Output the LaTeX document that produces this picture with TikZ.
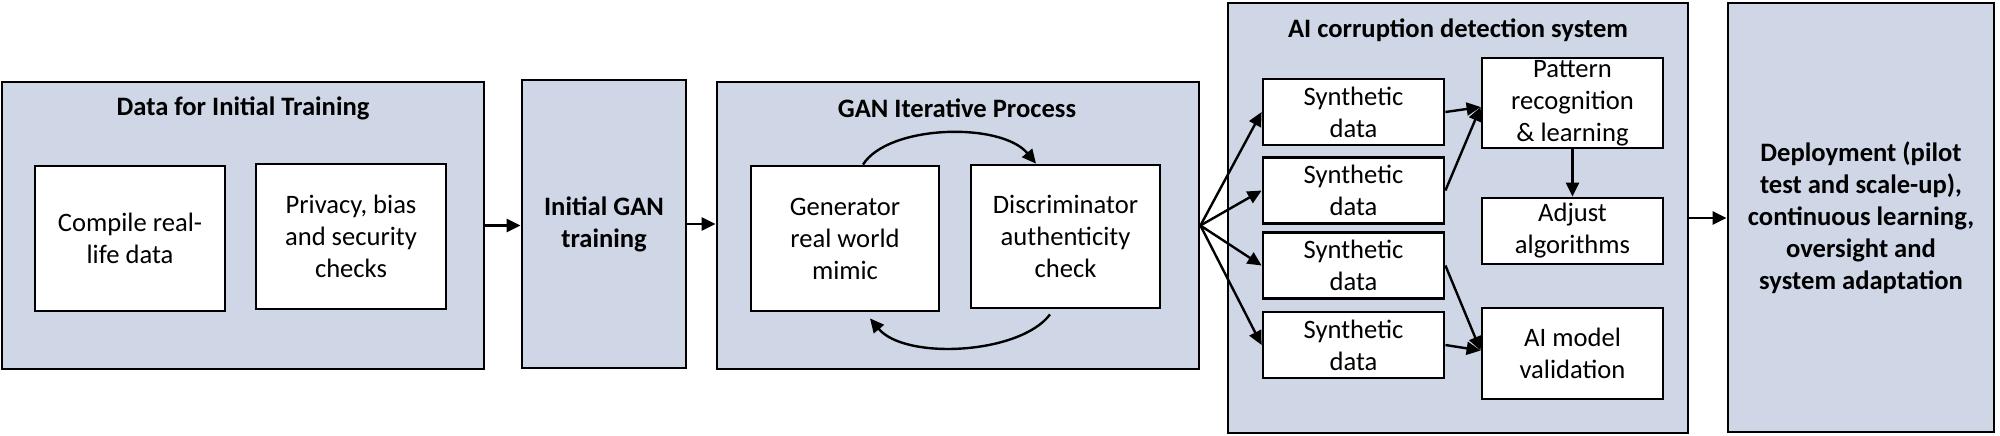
\documentclass[tikz,border=0pt]{standalone}
\usepackage{fontspec}
\setmainfont{Carlito}
\usetikzlibrary{arrows.meta,calc}
\definecolor{panelblue}{RGB}{207,214,229}
\begin{document}
\begin{tikzpicture}[x=0.5pt,y=-0.5pt,
  every node/.style={font=\fontsize{13.3pt}{16pt}\selectfont, align=center, inner sep=0pt},
  panel/.style={draw, line width=1.4pt, fill=panelblue},
  wbox/.style={draw, line width=1.4pt, fill=white},
  ttl/.style={font=\fontsize{13.3pt}{16pt}\selectfont\bfseries},
  arr/.style={line width=1.2pt, -{Triangle[length=7pt,width=6.5pt]}}
]
\useasboundingbox (0,0) rectangle (2000,435);

% Data for initial training
\node[panel, minimum width=241pt, minimum height=143.5pt] (data) at (243,225.5) {};
\node[ttl] (dataT) at (243,108) {Data for Initial Training};
\node[wbox, minimum width=95pt, minimum height=72.5pt] (compile) at (130,238.5) {Compile real-\\life data};
\node[wbox, minimum width=95pt, minimum height=72.5pt] (privacy) at (351,236.5) {Privacy, bias\\and security\\checks};

% Initial GAN training
\node[panel, ttl, minimum width=82pt, minimum height=144pt] (gan) at (604,224) {Initial GAN\\training};

% GAN iterative process
\node[panel, minimum width=241pt, minimum height=143.5pt] (iter) at (958,225.5) {};
\node[ttl] (iterT) at (957,108) {GAN Iterative Process};
\node[wbox, minimum width=94pt, minimum height=72.5pt] (gen) at (845,238.5) {Generator\\real world\\mimic};
\node[wbox, minimum width=94.5pt, minimum height=71.5pt] (disc) at (1065.5,236.5) {Discriminator\\authenticity\\check};

% AI corruption detection system
\node[panel, minimum width=230pt, minimum height=215pt] (ai) at (1458,218) {};
\node[ttl] (aiT) at (1458,30) {AI corruption detection system};
\node[wbox, minimum width=90.5pt, minimum height=33pt] (syn1) at (1353.5,112) {Synthetic\\data};
\node[wbox, minimum width=90.5pt, minimum height=33pt] (syn2) at (1353.5,190.5) {Synthetic\\data};
\node[wbox, minimum width=90.5pt, minimum height=33pt] (syn3) at (1353.5,265.5) {Synthetic\\data};
\node[wbox, minimum width=90.5pt, minimum height=33pt] (syn4) at (1353.5,345) {Synthetic\\data};
\node[wbox, minimum width=90.5pt, minimum height=45pt] (pat) at (1572.5,103) {Pattern\\recognition\\\& learning};
\node[wbox, minimum width=90.5pt, minimum height=33pt] (adj) at (1572.5,231) {Adjust\\algorithms};
\node[wbox, minimum width=90.5pt, minimum height=45.5pt] (val) at (1572.5,353.5) {AI model\\validation};

% Deployment
\node[panel, ttl, minimum width=133pt, minimum height=214.5pt] (dep) at (1861,217.5) {Deployment (pilot\\test and scale-up),\\continuous learning,\\oversight and\\system adaptation};

% connectors
\draw[arr] (data.east) -- (data.east -| gan.west);
\draw[arr] (gan.east) -- (gan.east -| iter.west);
\foreach \i in {1,...,4} \draw[arr] (iter.east) -- (syn\i.west);
\coordinate (pin) at ($(pat.west)+(0,4)$);
\draw[arr] (syn1.east) -- (pin);
\draw[arr] (syn2.east) -- (pin);
\draw[arr] (pat.south) -- (adj.north);
\coordinate (vin) at ($(val.west)+(0,-3)$);
\draw[arr] (syn3.east) -- (vin);
\draw[arr] (syn4.east) -- (vin);
\draw[arr] (ai.east) -- (ai.east -| dep.west);

% GAN loop
\coordinate (g1) at ($(gen.north)+(18,0)$);
\coordinate (d1) at ($(disc.north)+(-29.5,0)$);
\draw[arr] (g1) .. controls +(25,-40) and +(-35,-42) .. (d1);
\coordinate (d2) at ($(disc.south)+(-15.5,5)$);
\coordinate (g2) at ($(gen.south)+(25,6)$);
\draw[arr] (d2) .. controls +(-30,40) and +(35,42) .. (g2);
\end{tikzpicture}
\end{document}
